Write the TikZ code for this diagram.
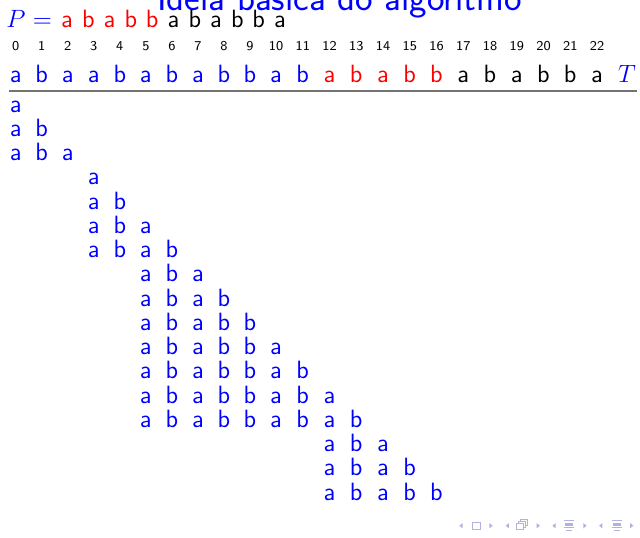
\RequirePackage{fix-cm}
\documentclass[tikz,border=0pt]{standalone}
\usepackage{fontspec}
\definecolor{navcol}{rgb}{0.70,0.70,0.88}
\newcommand\pch[1]{\ifcase#1\or a\or b\or a\or b\or b\or a\or b\or a\or b\or b\or a\fi}
\tikzset{
  every node/.style={inner sep=0pt, outer sep=0pt, anchor=base},
  letter/.style={font=\fontsize{12.5}{15}\sffamily},
  idx/.style={font=\fontsize{6.75}{8}\sffamily},
  ttl/.style={font=\fontsize{18.6}{22}\sffamily, text=blue},
  mathlbl/.style={font=\fontsize{12.5}{15}\selectfont, text=blue},
  rulestyle/.style={draw=black!55, line width=0.8pt},
  navtri/.style={fill=navcol, draw=none},
  navline/.style={draw=navcol, line width=0.5pt},
}
\begin{document}
\begin{tikzpicture}[x=0.5pt, y=-0.5pt]
\clip (0,0) rectangle (640,537);
\useasboundingbox (0,0) rectangle (640,537);
% title (cut off at the top)
\node[ttl] (title) at (339.5,10.5) {Idéia básica do algoritmo};
% pattern line
\node[mathlbl] (P) at (16,27) {$P$};
\node[mathlbl] (eq) at (42.5,27) {$=$};
\foreach \j in {1,...,11}{
  \pgfmathsetmacro\px{67+21.3*(\j-1)}
  \ifnum\j<6 \def\cc{red}\else\def\cc{black}\fi
  \node[letter, text=\cc] (p\j) at (\px,27) {\pch{\j}};
}
% indices and text
\foreach \ch [count=\k from 0] in {a,b,a,a,b,a,b,a,b,b,a,b,a,b,a,b,b,a,b,a,b,b,a}{
  \pgfmathsetmacro\cx{ifthenelse(\k<11, 15.7+26.03*\k, 276+26.75*(\k-10))}
  \ifnum\k<12 \def\cc{blue}\else\ifnum\k<17 \def\cc{red}\else\def\cc{black}\fi\fi
  \node[idx] (i\k) at (\cx,50.7) {\k};
  \node[letter, text=\cc] (t\k) at (\cx,82) {\ch};
}
\node[mathlbl] (T) at (627,82) {$T$};
\coordinate (ls) at (9,91);
\coordinate (le) at (637,91);
\draw[rulestyle] (ls) -- (le);
% attempts
\foreach \r/\s/\n in {1/0/1,2/0/2,3/0/3,4/3/1,5/3/2,6/3/3,7/3/4,8/5/3,9/5/4,10/5/5,11/5/6,12/5/7,13/5/8,14/5/9,15/12/3,16/12/4,17/12/5}{
  \pgfmathsetmacro\yy{112+(\r-1)*24.25}
  \foreach \j in {1,...,\n}{
    \pgfmathtruncatemacro\kk{\s+\j-1}
    \pgfmathsetmacro\cx{ifthenelse(\kk<11, 15.7+26.03*\kk, 276+26.75*(\kk-10))}
    \node[letter, text=blue] (r\r c\j) at (\cx,\yy) {\pch{\j}};
  }
}
% navigation symbols
\def\ny{525.7}
\foreach \x in {461,507.3,554,600.7}{
  \fill[navtri] (\x+1.6,\ny-2.6) -- (\x+1.6,\ny+2.6) -- (\x-1.6,\ny) -- cycle;
}
\foreach \x in {491,538.3,585,631.7}{
  \fill[navtri] (\x-1.6,\ny-2.6) -- (\x-1.6,\ny+2.6) -- (\x+1.6,\ny) -- cycle;
}
\draw[navline] (472,522.5) rectangle (480.5,529);
\draw[navline, fill=white] (520,519.5) rectangle (527.5,525.5);
\draw[navline, fill=white] (518,521.5) rectangle (525.5,527.5);
\draw[navline, fill=white] (516,523.5) rectangle (523.5,529.5);
\foreach \x in {569.3,616.7}{
  \draw[navline] (\x-5,520.5) -- (\x+5,520.5);
  \fill[navcol] (\x-4,522.5) rectangle (\x+4,525.5);
  \draw[navline] (\x-5,527.5) -- (\x+5,527.5);
  \draw[navline] (\x-3,530) -- (\x+3,530);
}
\end{tikzpicture}
\end{document}
